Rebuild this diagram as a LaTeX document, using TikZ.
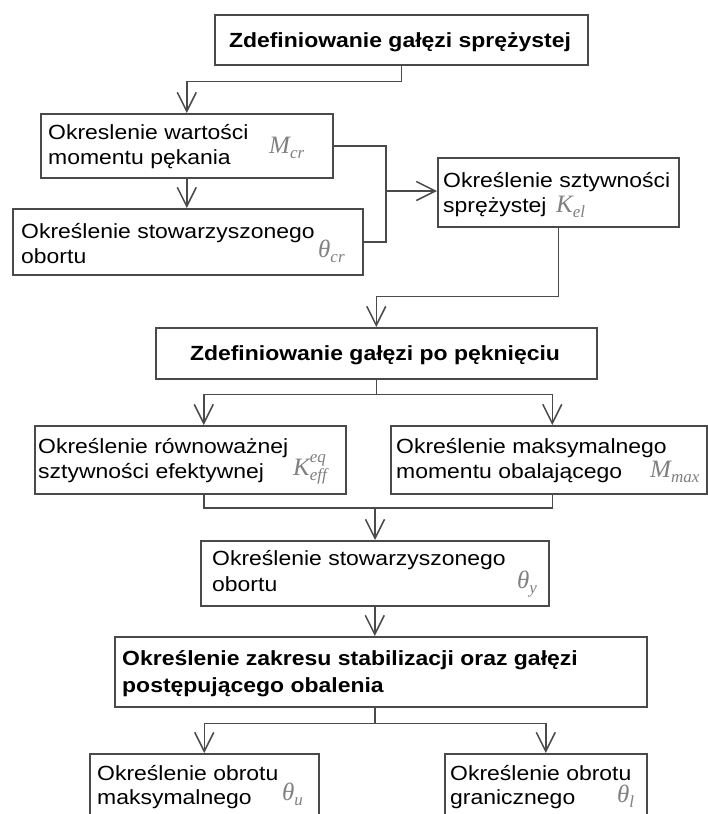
\documentclass[tikz,border=0pt]{standalone}
\usepackage{fontspec}
\setmainfont{Liberation Sans}[FakeStretch=1.12]
\newfontfamily\symserif{Liberation Serif}
\usetikzlibrary{arrows.meta}
\definecolor{ln}{HTML}{4A4A4A}
\definecolor{symc}{HTML}{808080}
\newcommand{\txtsize}{\fontsize{20.5}{25}\selectfont}
\newcommand{\symv}[1]{{\symserif\itshape\fontsize{25}{25}\selectfont\color{symc}#1}}
\newcommand{\symsub}[1]{\raisebox{-5pt}{\fontsize{17}{17}\selectfont #1}}
\newcommand{\symsup}[1]{\rlap{\raisebox{13pt}{\fontsize{17}{17}\selectfont #1}}}
\begin{document}
\begin{tikzpicture}[x=1pt,y=-1pt,
  box/.style={draw=ln,line width=1.5pt,rectangle,inner sep=0pt,anchor=north west},
  lbl/.style={anchor=base west,inner sep=0pt,font=\txtsize},
  ttl/.style={anchor=base,inner sep=0pt,font=\txtsize\bfseries},
  sym/.style={anchor=base west,inner sep=0pt},
  conn/.style={draw=ln,line width=1.5pt},
  arr/.style={conn,-{Straight Barb[length=19pt,width=19pt]}}]
\useasboundingbox (0,0) rectangle (708,814);
\clip (0,0) rectangle (708,814);
\fill[white] (0,0) rectangle (708,814);
% boxes
\node[box,minimum width=373pt,minimum height=50pt] (b1) at (214,14) {};
\node[box,minimum width=292pt,minimum height=64pt] (b2) at (40,113) {};
\node[box,minimum width=350pt,minimum height=66pt] (b3) at (12,208) {};
\node[box,minimum width=241pt,minimum height=69pt] (b4) at (437,157) {};
\node[box,minimum width=441pt,minimum height=51pt] (b5) at (155,327) {};
\node[box,minimum width=311pt,minimum height=68pt] (b6) at (34,425) {};
\node[box,minimum width=316pt,minimum height=68pt] (b7) at (390,425) {};
\node[box,minimum width=348pt,minimum height=65pt] (b8) at (200,540) {};
\node[box,minimum width=532pt,minimum height=70pt] (b9) at (114,636) {};
\node[box,minimum width=229pt,minimum height=80pt] (b10) at (89,753) {};
\node[box,minimum width=202pt,minimum height=80pt] (b11) at (444,753) {};
% texts
\node[ttl] (t1) at (400,47) {Zdefiniowanie gałęzi sprężystej};
\node[lbl] (t2a) at (48,139) {Okreslenie wartości};
\node[lbl] (t2b) at (48,164) {momentu pękania};
\node[sym] (m2) at (269,153) {\symv{M\symsub{cr}}};
\node[lbl] (t3a) at (21,238) {Określenie stowarzyszonego};
\node[lbl] (t3b) at (21,263) {obortu};
\node[sym] (m3) at (318,257) {\symv{θ\symsub{cr}}};
\node[lbl] (t4a) at (443,187) {Określenie sztywności};
\node[lbl] (t4b) at (443,212) {sprężystej};
\node[sym] (m4) at (556,212) {\symv{K\symsub{el}}};
\node[ttl] (t5) at (375,360) {Zdefiniowanie gałęzi po pęknięciu};
\node[lbl] (t6a) at (38,453) {Określenie równoważnej};
\node[lbl] (t6b) at (38,478) {sztywności efektywnej};
\node[sym] (m6) at (293,475) {\symv{K\symsup{eq}\symsub{eff}}};
\node[lbl] (t7a) at (396,453) {Określenie maksymalnego};
\node[lbl] (t7b) at (396,478) {momentu obalającego};
\node[sym] (m7) at (650,477) {\symv{M\symsub{max}}};
\node[lbl] (t8a) at (212,565) {Określenie stowarzyszonego};
\node[lbl] (t8b) at (212,591) {obortu};
\node[sym] (m8) at (517,588) {\symv{θ\symsub{y}}};
\node[lbl,font=\txtsize\bfseries] (t9a) at (122,665) {Określenie zakresu stabilizacji oraz gałęzi};
\node[lbl,font=\txtsize\bfseries] (t9b) at (122,692) {postępującego obalenia};
\node[lbl] (t10a) at (97,780) {Określenie obrotu};
\node[lbl] (t10b) at (97,804) {maksymalnego};
\node[sym] (m10) at (282,800) {\symv{θ\symsub{u}}};
\node[lbl] (t11a) at (450,780) {Określenie obrotu};
\node[lbl] (t11b) at (450,804) {granicznego};
\node[sym] (m11) at (617,802) {\symv{θ\symsub{l}}};
% connectors
\draw[arr] (b1.south) -- ++(0,16) -| (b2.north);
\draw[arr] (b2.south) -- (b2.south |- b3.north);
\coordinate (j1) at (386,191);
\draw[conn] (b2.east) -| (j1) |- (b3.east);
\draw[arr] (j1) -- (j1 -| b4.west);
\draw[arr] (b4.south) -- ++(0,69) -| (b5.north);
\draw[arr] (b5.south) -- ++(0,15) -| ([xshift=13.5pt]b6.north);
\draw[arr] (b5.south) -- ++(0,15) -| ([xshift=3.5pt]b7.north);
\coordinate (j2) at (375,508);
\draw[conn] ([xshift=13.5pt]b6.south) |- (j2) -| ([xshift=3.5pt]b7.south);
\draw[arr] (j2) -- (j2 |- b8.north);
\draw[arr] (b8.south) -- (b8.south |- b9.north);
\draw[arr] ([xshift=-6pt]b9.south) -- ++(0,16) -| (b10.north);
\draw[arr] ([xshift=-6pt]b9.south) -- ++(0,16) -| (b11.north);
\end{tikzpicture}
\end{document}
